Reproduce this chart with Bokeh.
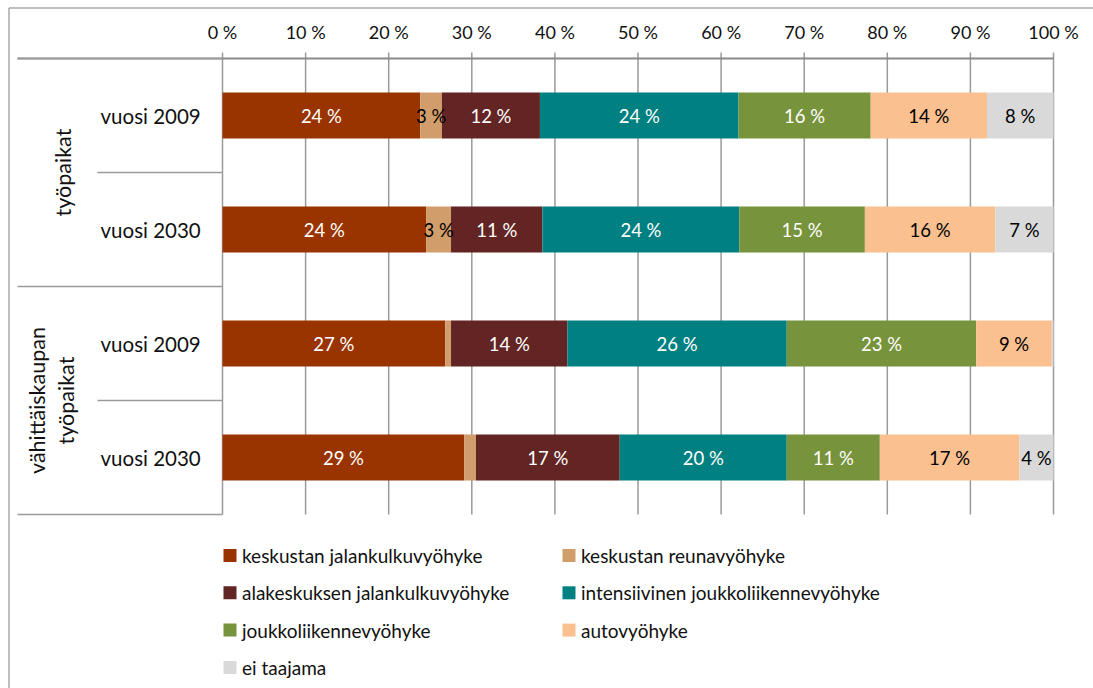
import numpy as np
from bokeh.plotting import figure
from bokeh.models import ColumnDataSource, Range1d
from bokeh.core.properties import value
from bokeh.embed import file_html
from bokeh.resources import INLINE

# ---------------- data ----------------
groups = [["työpaikat"], ["vähittäiskaupan", "työpaikat"]]
rows = ["vuosi 2009", "vuosi 2030", "vuosi 2009", "vuosi 2030"]
row_group = [0, 0, 1, 1]
series = ["keskustan jalankulkuvyöhyke", "keskustan reunavyöhyke",
          "alakeskuksen jalankulkuvyöhyke", "intensiivinen joukkoliikennevyöhyke",
          "joukkoliikennevyöhyke", "autovyöhyke", "ei taajama"]
colors = ["#993300", "#D19D6B", "#632523", "#008080", "#77933C", "#FAC090", "#D9D9D9"]
label_colors = ["white", "black", "white", "white", "white", "black", "black"]

keskustan_jalankulku = [23.8, 24.5, 26.8, 29.1]
keskustan_reuna = [2.6, 3.0, 0.7, 1.4]
alakeskus_jalankulku = [11.8, 11.0, 14.0, 17.3]
intensiivinen_joukko = [23.9, 23.7, 26.4, 20.1]
joukkoliikenne = [15.9, 15.1, 22.8, 11.2]
autovyohyke = [14.0, 15.7, 9.1, 16.8]
ei_taajama = [8.0, 7.0, 0.2, 4.1]
series_values = [keskustan_jalankulku, keskustan_reuna, alakeskus_jalankulku,
                 intensiivinen_joukko, joukkoliikenne, autovyohyke, ei_taajama]

x_ticks = list(range(0, 101, 10))
tick_labels = [f"{t} %" for t in x_ticks]

# ---------------- layout ----------------
W, H = 1093, 688
PX0, PX100 = 222, 1053          # pixel of 0 % and 100 %
ROW0_Y, ROW_STEP = 115, 114     # pixel centre of first row, row pitch
sx = (PX100 - PX0) / 100.0

def X(px):
    return (px - PX0) / sx

def Y(py):
    return (py - ROW0_Y) / ROW_STEP

FONT = value("Lato")
GRID = "#9a9a9a"
n = len(rows)

p = figure(width=W, height=H,
           x_range=Range1d(X(0), X(W)), y_range=Range1d(Y(H), Y(0)),
           output_backend="svg", toolbar_location=None,
           x_axis_location=None, y_axis_location=None, min_border=0)
p.outline_line_color = None
for g in p.grid:
    g.visible = False
p.background_fill_color = "white"
p.border_fill_color = "white"

# outer chart border (top + left)
p.segment(x0=[X(8.5), X(8.5)], y0=[Y(7.5), Y(7.5)], x1=[X(W), X(8.5)], y1=[Y(7.5), Y(H)],
          line_color="#a8a8a8", line_width=1.5)

# vertical gridlines (with outward tick marks above axis)
top = -0.5
bottom = n - 0.5
p.segment(x0=x_ticks, y0=[top - 6 / ROW_STEP] * len(x_ticks), x1=x_ticks, y1=[bottom] * len(x_ticks),
          line_color=GRID, line_width=1.5)
# top axis line
p.segment(x0=[X(17)], y0=[top], x1=[100], y1=[top], line_color="#8a8a8a", line_width=2)

# category separators
sep_x0, sep_y = [], []
for b in range(n + 1):
    yb = b - 0.5
    is_group = b == 0 or b == n or row_group[b] != row_group[b - 1]
    sep_x0.append(X(17) if is_group else X(97))
    sep_y.append(yb)
p.segment(x0=sep_x0, y0=sep_y, x1=[0] * len(sep_y), y1=sep_y, line_color="#9a9a9a", line_width=1.5)

# tick labels
p.text(x=x_ticks, y=[Y(31)] * len(x_ticks), text=tick_labels, text_font=FONT,
       text_font_size="18px", text_align="center", text_baseline="middle", text_color="#111111")

# stacked bars
data = {"row": list(range(n))}
for s, v in zip(series, series_values):
    data[s] = v
src = ColumnDataSource(data)
p.hbar_stack(series, y="row", height=0.404, color=colors, source=src, line_color=None)

# bar labels
vals = np.array(series_values, dtype=float)        # shape (series, rows)
lefts = np.vstack([np.zeros(n), np.cumsum(vals, axis=0)[:-1]])
lx, ly, lt, lc = [], [], [], []
for si in range(len(series)):
    for r in range(n):
        v = vals[si, r]
        if v >= 2:
            lx.append(lefts[si, r] + v / 2)
            ly.append(r)
            lt.append(f"{int(round(v))} %")
            lc.append(label_colors[si])
p.text(x="x", y="y", text="t", text_color="c",
       source=ColumnDataSource(dict(x=lx, y=ly, t=lt, c=lc)),
       text_font=FONT, text_font_size="18.5px", text_align="center", text_baseline="middle")

# row labels
p.text(x=[X(100)] * n, y=list(range(n)), text=rows, text_font=FONT, text_font_size="20.5px",
       text_align="left", text_baseline="middle", text_color="#111111")

# group labels (rotated)
for gi, lines in enumerate(groups):
    members = [r for r in range(n) if row_group[r] == gi]
    yc = float(np.mean(members))
    if len(lines) == 1:
        xs = [X(62)]
    else:
        xs = [X(36), X(65)]
    p.text(x=xs, y=[yc] * len(lines), text=lines, angle=np.pi / 2, text_font=FONT,
           text_font_size="21.5px", text_align="center", text_baseline="middle", text_color="#111111")

# legend (two columns, row-major)
sq_x, sq_y = [], []
tx, ty = [], []
for i, name in enumerate(series):
    col, rr = i % 2, i // 2
    cx = 229.5 + col * 339
    cy = 555 + rr * 37.3
    sq_x.append(X(cx)); sq_y.append(Y(cy))
    tx.append(X(cx + 12)); ty.append(Y(cy))
p.rect(x=sq_x, y=sq_y, width=13, height=13, width_units="screen", height_units="screen",
       fill_color=colors, line_color=None)
p.text(x=tx, y=ty, text=series, text_font=FONT, text_font_size="19px",
       text_align="left", text_baseline="middle", text_color="#111111")

open("out.html", "w", encoding="utf-8").write(file_html(p, INLINE))
